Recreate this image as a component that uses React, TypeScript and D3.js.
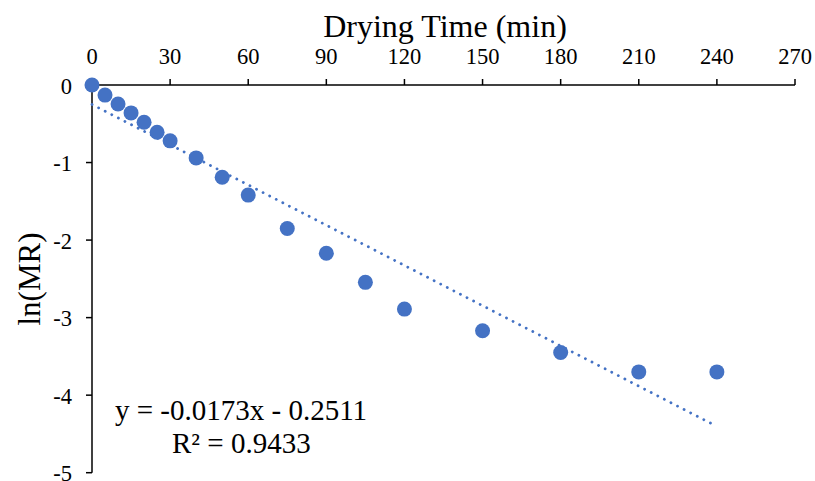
import React from "react";
import * as d3 from "d3";

const timeMin = [0, 5, 10, 15, 20, 25, 30, 40, 50, 60, 75, 90, 105, 120, 150, 180, 210, 240];
const lnMR = [0, -0.13, -0.245, -0.36, -0.48, -0.61, -0.72, -0.94, -1.19, -1.42, -1.85, -2.17, -2.545, -2.89, -3.17, -3.45, -3.70, -3.70];
const xTicks = [0, 30, 60, 90, 120, 150, 180, 210, 240, 270];
const yTicks = [0, -1, -2, -3, -4, -5];
const slope = -0.0173;
const intercept = -0.2511;

export default function App() {
  const W = 815, H = 481;
  const x = d3.scaleLinear().domain([0, 270]).range([92, 795]);
  const y = d3.scaleLinear().domain([0, -5]).range([85, 472.7]);
  const font = "'Liberation Serif', 'Times New Roman', serif";
  const color = "#4472C4";
  const line = d3.line<number>().x((d) => x(d)).y((d) => y(slope * d + intercept));
  return (
    <svg width={W} height={H} style={{ position: "absolute", left: 0, top: 0, background: "#fff" }} fontFamily={font}>
      {/* axes */}
      <line x1={x(0)} x2={x(270)} y1={y(0)} y2={y(0)} stroke="#000" strokeWidth={1.5} />
      <line x1={x(0)} x2={x(0)} y1={y(0)} y2={y(-5)} stroke="#000" strokeWidth={1.5} />
      {xTicks.map((t) => (
        <g key={"xt" + t}>
          <line x1={x(t)} x2={x(t)} y1={y(0)} y2={y(0) - 6} stroke="#000" strokeWidth={1.5} />
          <text x={x(t)} y={64} textAnchor="middle" fontSize={22.5}>{t}</text>
        </g>
      ))}
      {yTicks.map((t) => (
        <g key={"yt" + t}>
          <line x1={x(0) - 6} x2={x(0)} y1={y(t)} y2={y(t)} stroke="#000" strokeWidth={1.5} />
          <text x={72} y={y(t) + 8.5} textAnchor="end" fontSize={22.5}>{t}</text>
        </g>
      ))}
      <text x={445} y={37} textAnchor="middle" fontSize={32}>Drying Time (min)</text>
      <text transform={`translate(40,${279}) rotate(-90)`} textAnchor="middle" fontSize={31}>ln(MR)</text>
      {/* trendline */}
      <path d={line([0, 240]) || ""} fill="none" stroke={color} strokeWidth={2.8} strokeDasharray="0.1 7.3" strokeLinecap="round" />
      {/* points */}
      {timeMin.map((t, i) => (
        <circle key={"p" + i} cx={x(t)} cy={y(lnMR[i])} r={7.5} fill={color} />
      ))}
      <text x={115} y={420} fontSize={29}>y = -0.0173x - 0.2511</text>
      <text x={172} y={453} fontSize={29}>R² = 0.9433</text>
    </svg>
  );
}
